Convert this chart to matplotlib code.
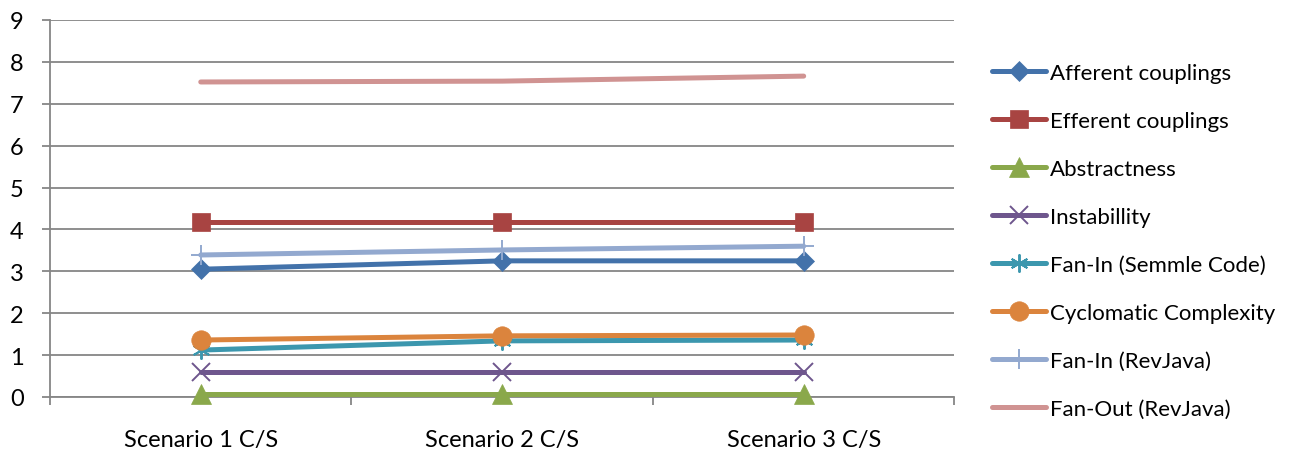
import matplotlib.pyplot as plt
import numpy as np

plt.rcParams['font.family'] = ['Lato', 'DejaVu Sans']

scenarios = ["Scenario 1 C/S", "Scenario 2 C/S", "Scenario 3 C/S"]

afferent = [3.05, 3.25, 3.25]
efferent = [4.18, 4.18, 4.18]
abstractness = [0.07, 0.07, 0.07]
instability = [0.60, 0.60, 0.60]
fanin_semmle = [1.12, 1.34, 1.36]
cyclomatic = [1.36, 1.46, 1.48]
fanin_revjava = [3.39, 3.51, 3.60]
fanout_revjava = [7.52, 7.54, 7.66]

series = [
    ("Afferent couplings", afferent, "#4372AA", "D", 10.5, 0),
    ("Efferent couplings", efferent, "#A84442", "s", 13, 0),
    ("Abstractness", abstractness, "#8AA84B", "^", 14, 0),
    ("Instabillity", instability, "#6E568D", "x", 13, 1.4),
    ("Fan-In (Semmle Code)", fanin_semmle, "#3C97AE", (6, 2, 0), 13, 1.4),
    ("Cyclomatic Complexity", cyclomatic, "#DB843D", "o", 14, 0),
    ("Fan-In (RevJava)", fanin_revjava, "#93A9CF", "+", 15, 1.4),
    ("Fan-Out (RevJava)", fanout_revjava, "#D09392", None, 0, 0),
]

fig = plt.figure(figsize=(13.06, 4.56), dpi=100)
ax = fig.add_axes([0.0383, 0.1272, 0.6925, 0.8268])

x = np.arange(len(scenarios))
for name, vals, col, mk, ms, mew in series:
    ax.plot(x, vals, color=col, lw=3.6, marker=mk, markersize=ms,
            markeredgewidth=mew if mew else 0.5, markeredgecolor=col,
            markerfacecolor=col, solid_capstyle='round', label=name,
            clip_on=False, zorder=3)

ax.set_xlim(-0.5, 2.5)
ax.set_ylim(0, 9)
ax.set_yticks(range(10))
ax.set_xticks(x)
ax.set_xticklabels(scenarios)
ax.set_xticks([-0.5, 0.5, 1.5, 2.5], minor=True)

ax.grid(axis='y', color='#868686', lw=1.3)
ax.set_axisbelow(True)
for s in ['top', 'right']:
    ax.spines[s].set_visible(False)
for s in ['left', 'bottom']:
    ax.spines[s].set_color('#868686')
    ax.spines[s].set_linewidth(1.3)

ax.tick_params(axis='y', length=6, width=1.3, color='#868686', labelsize=17, pad=13)
ax.tick_params(axis='x', which='major', length=0, labelsize=17, pad=23)
ax.tick_params(axis='x', which='minor', length=6, width=1.3, color='#868686')

ax.legend(loc='center left', bbox_to_anchor=(1.042, 0.415), frameon=False,
          fontsize=16, handlelength=2.4, handletextpad=0.2, labelspacing=1.26,
          borderaxespad=0, borderpad=0)

fig.savefig("out.png", dpi=100)
